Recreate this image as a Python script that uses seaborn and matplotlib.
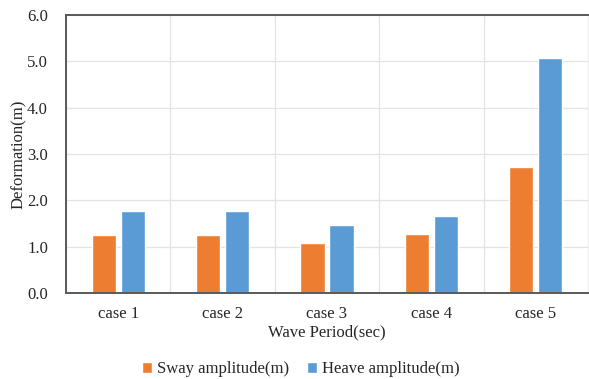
import numpy as np
import pandas as pd
import matplotlib
matplotlib.use('Agg')
import matplotlib.pyplot as plt
import seaborn as sns

# Data
cases = ["case 1", "case 2", "case 3", "case 4", "case 5"]
sway = [1.25, 1.25, 1.07, 1.27, 2.73]
heave = [1.78, 1.76, 1.47, 1.67, 5.08]
series_names = ["Sway amplitude(m)", "Heave amplitude(m)"]

df = pd.DataFrame({
    "case": cases * 2,
    "value": sway + heave,
    "series": [series_names[0]] * len(cases) + [series_names[1]] * len(cases),
})

sns.set_theme(style="white")
plt.rcParams['font.family'] = ['Liberation Serif', 'DejaVu Serif']

fig = plt.figure(figsize=(5.89, 3.79), dpi=100)
ax = fig.add_axes([66 / 589, 1 - 293 / 379, 522 / 589, 278 / 379])

palette = {series_names[0]: "#ED7D31", series_names[1]: "#5B9BD5"}
sns.barplot(data=df, x="case", y="value", hue="series", palette=palette,
            width=0.555, gap=0.17, saturation=1, ax=ax, legend=True)

ax.set_ylim(0, 6)
ax.set_xlim(-0.5, len(cases) - 0.5)
ax.set_yticks(np.arange(0, 6.1, 1.0))
ax.set_yticklabels([f"{v:.1f}" for v in np.arange(0, 6.1, 1.0)])
ax.set_xticks(range(len(cases)))
ax.set_xticks(np.arange(-0.5, len(cases), 1.0), minor=True)
ax.grid(axis="y", which="major", color="#E3E3E3", linewidth=0.9)
ax.grid(axis="x", which="minor", color="#E3E3E3", linewidth=0.9)
ax.set_axisbelow(True)
ax.tick_params(axis="both", which="both", length=0, labelsize=12, labelcolor="#262626")
ax.tick_params(axis="x", pad=9)
ax.tick_params(axis="y", pad=13)

for side in ["left", "bottom", "top"]:
    ax.spines[side].set_color("#595959")
    ax.spines[side].set_linewidth(1.4)
ax.spines["right"].set_color("#EEEEEE")
ax.spines["right"].set_linewidth(0.8)

ax.set_xlabel("Wave Period(sec)", fontsize=12, color="#262626", labelpad=2)
ax.set_ylabel("Deformation(m)", fontsize=12, color="#262626", labelpad=0)

handles, labels = ax.get_legend_handles_labels()
ax.legend(handles, labels, loc="center", bbox_to_anchor=(0.45, -0.275),
          ncol=2, frameon=False, fontsize=12, handlelength=0.6, handleheight=0.6,
          handletextpad=0.3, columnspacing=1.1, labelcolor="#262626")

fig.savefig("out.png", dpi=100)
plt.close(fig)
